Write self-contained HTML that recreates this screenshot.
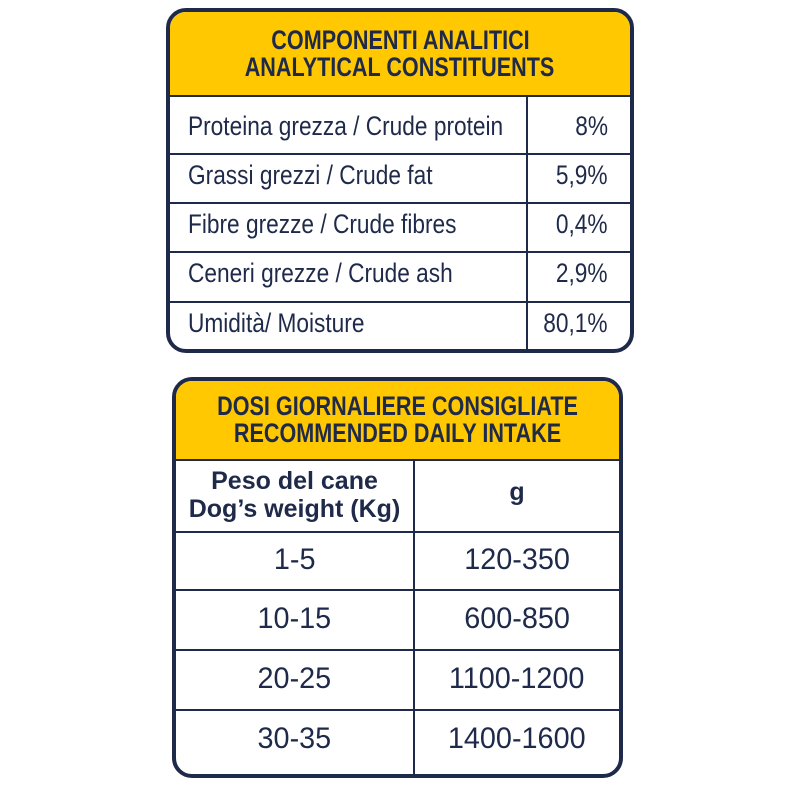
<!DOCTYPE html>
<html><head><meta charset="utf-8"><style>
body{margin:0;width:800px;height:800px;background:#fff;position:relative;overflow:hidden;font-family:"Liberation Sans",sans-serif;color:#1f2a4a}
.box{position:absolute;border:4px solid #1f2a4a;border-radius:20px;overflow:hidden;box-sizing:border-box;background:#fff}
.hd{position:absolute;left:0;right:0;top:0;background:#ffc800;border-bottom:2px solid #1f2a4a;text-align:center;font-weight:bold;font-size:27px;line-height:27px;display:flex;flex-direction:column;justify-content:center;align-items:center}
.hd span{display:block;transform:scaleX(0.8);white-space:nowrap}
.h{position:absolute;left:0;right:0;height:2px;background:#1f2a4a}
.v{position:absolute;width:2px;background:#1f2a4a}
.t{position:absolute;font-size:27px;white-space:nowrap;line-height:30px}
.t span{display:inline-block}
.l span{transform:scaleX(0.84);transform-origin:left}
.r span{transform:scaleX(0.84);transform-origin:right}
.c{text-align:center;font-size:30px}
.c span{transform:scaleX(0.96)}
</style></head><body>
<div class="box" style="left:166px;top:8px;width:468px;height:345px">
 <div class="hd" style="height:83px"><span>COMPONENTI ANALITICI</span><span>ANALYTICAL CONSTITUENTS</span></div>
 <div class="h" style="top:141px"></div><div class="h" style="top:190px"></div><div class="h" style="top:239px"></div><div class="h" style="top:289px"></div>
 <div class="v" style="left:356px;top:85px;bottom:0"></div>
 <div class="t l" style="left:18px;top:99px"><span>Proteina grezza / Crude protein</span></div><div class="t r" style="right:22px;top:99px"><span>8%</span></div>
 <div class="t l" style="left:18px;top:148px"><span>Grassi grezzi / Crude fat</span></div><div class="t r" style="right:22px;top:148px"><span>5,9%</span></div>
 <div class="t l" style="left:18px;top:197px"><span>Fibre grezze / Crude fibres</span></div><div class="t r" style="right:22px;top:197px"><span>0,4%</span></div>
 <div class="t l" style="left:18px;top:246px"><span>Ceneri grezze / Crude ash</span></div><div class="t r" style="right:22px;top:246px"><span>2,9%</span></div>
 <div class="t l" style="left:18px;top:296px"><span>Umidità/ Moisture</span></div><div class="t r" style="right:22px;top:296px"><span>80,1%</span></div>
</div>
<div class="box" style="left:172px;top:377px;width:451px;height:401px">
 <div class="hd" style="height:78px"><span>DOSI GIORNALIERE CONSIGLIATE</span><span>RECOMMENDED DAILY INTAKE</span></div>
 <div class="h" style="top:150px"></div><div class="h" style="top:208px"></div><div class="h" style="top:268px"></div><div class="h" style="top:328px"></div>
 <div class="v" style="left:237px;top:80px;bottom:0"></div>
 <div class="t" style="left:0;width:237px;text-align:center;top:86px;font-weight:bold;font-size:25px;line-height:28px">Peso del cane<br>Dog’s weight (Kg)</div>
 <div class="t" style="left:239px;right:0;text-align:center;top:96px;font-weight:bold;font-size:25px">g</div>
 <div class="t c" style="left:0;width:237px;top:164px"><span>1-5</span></div><div class="t c" style="left:239px;right:0;top:164px"><span>120-350</span></div>
 <div class="t c" style="left:0;width:237px;top:223px"><span>10-15</span></div><div class="t c" style="left:239px;right:0;top:223px"><span>600-850</span></div>
 <div class="t c" style="left:0;width:237px;top:283px"><span>20-25</span></div><div class="t c" style="left:239px;right:0;top:283px"><span>1100-1200</span></div>
 <div class="t c" style="left:0;width:237px;top:343px"><span>30-35</span></div><div class="t c" style="left:239px;right:0;top:343px"><span>1400-1600</span></div>
</div>
</body></html>
